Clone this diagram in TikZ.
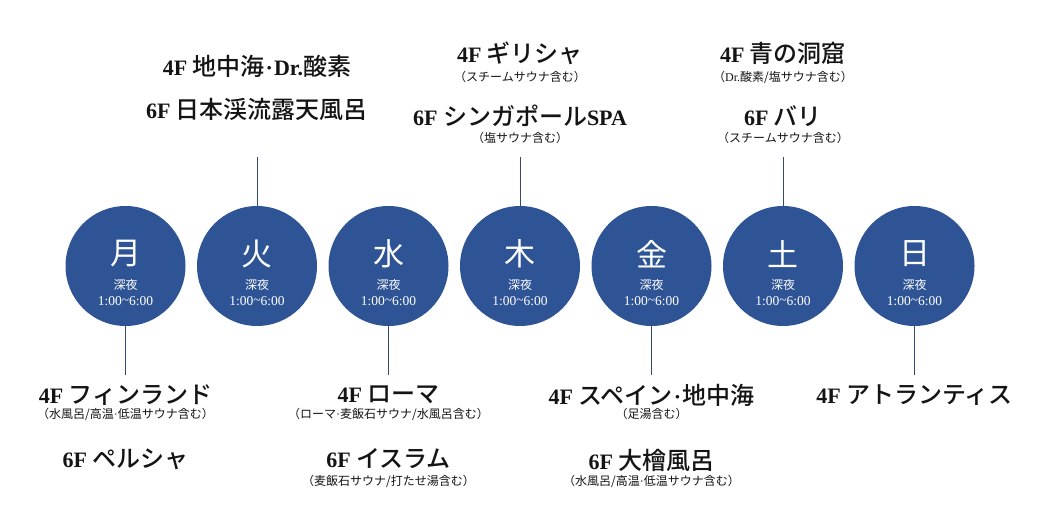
\documentclass[tikz,border=0pt]{standalone}
\usepackage{fontspec}
\setmainfont{Liberation Serif}
\newfontfamily\cjk{Noto Sans CJK JP}
\newfontfamily\cjkm{Noto Sans CJK JP Medium}
\newcommand\JP[1]{{\cjkm\mdseries\fontsize{24}{26}\selectfont #1}}
\newcommand\mdot{\kern1pt{\rmfamily\bfseries\textperiodcentered}\kern1pt}
\definecolor{dayblue}{RGB}{46,84,150}
\definecolor{linecol}{RGB}{52,74,110}
\definecolor{txt}{RGB}{20,20,20}
\tikzset{
  day/.style={circle, fill=dayblue, minimum size=120pt, inner sep=0pt},
  dayname/.style={text=white, font=\cjk\fontsize{31}{34}\selectfont, inner sep=0pt},
  shinya/.style={text=white, font=\cjk\fontsize{12}{14}\selectfont, inner sep=0pt},
  hours/.style={text=white, font=\fontsize{13.5}{15}\selectfont, inner sep=0pt},
  mainlab/.style={text=txt, font=\fontsize{22}{26}\selectfont\bfseries, inner sep=0pt},
  sublab/.style={text=txt, font=\cjk\fontsize{12}{14}\selectfont, inner sep=0pt},
  conn/.style={draw=linecol, line width=0.9pt}
}
\begin{document}
\begin{tikzpicture}[x=1pt,y=-1pt]
\useasboundingbox (0,0) rectangle (1040,529);
% day circles
\foreach \n/\x/\d in {1/125.5/月,2/257/火,3/388.5/水,4/520/木,5/651.5/金,6/783/土,7/914.5/日}{
  \node[day] (c\n) at (\x,266) {};
  \node[dayname] (d\n) at (\x,254) {\d};
  \node[shinya] (s\n) at (\x,285) {深夜};
  \node[hours] (h\n) at (\x,301) {1:00\raisebox{0.5pt}{\textasciitilde}6:00};
}
% connector free ends
\coordinate (t2) at (257,157);
\coordinate (t4) at (520,157);
\coordinate (t6) at (783,157);
\coordinate (b1) at (125.5,375);
\coordinate (b3) at (388.5,375);
\coordinate (b5) at (651.5,375);
\coordinate (b7) at (914.5,375);
\draw[conn] (c2.north) -- (t2);
\draw[conn] (c4.north) -- (t4);
\draw[conn] (c6.north) -- (t6);
\draw[conn] (c1.south) -- (b1);
\draw[conn] (c3.south) -- (b3);
\draw[conn] (c5.south) -- (b5);
\draw[conn] (c7.south) -- (b7);
% Tuesday (top)
\node[mainlab] (l2a) at (257,66) {4F \JP{地中海}\mdot Dr.\JP{酸素}};
\node[mainlab] (l2b) at (257,109) {6F \JP{日本渓流露天風呂}};
% Thursday (top)
\node[mainlab] (l4a) at (520,53) {4F \JP{ギリシャ}};
\node[sublab] (l4b) at (520,77) {（スチームサウナ含む）};
\node[mainlab] (l4c) at (520,116) {6F \JP{シンガポール}SPA};
\node[sublab] (l4d) at (520,138) {（塩サウナ含む）};
% Saturday (top)
\node[mainlab] (l6a) at (783,53) {4F \JP{青の洞窟}};
\node[sublab] (l6b) at (783,77) {（{\rmfamily Dr.}酸素/塩サウナ含む）};
\node[mainlab] (l6c) at (783,116) {6F \JP{バリ}};
\node[sublab] (l6d) at (783,138) {（スチームサウナ含む）};
% Monday (bottom)
\node[mainlab] (l1a) at (125.5,395) {4F \JP{フィンランド}};
\node[sublab] (l1b) at (125.5,414) {（水風呂/高温{\rmfamily\textperiodcentered}低温サウナ含む）};
\node[mainlab] (l1c) at (125.5,459) {6F \JP{ペルシャ}};
% Wednesday (bottom)
\node[mainlab] (l3a) at (388.5,395) {4F \JP{ローマ}};
\node[sublab] (l3b) at (388.5,414) {（ローマ{\rmfamily\textperiodcentered}麦飯石サウナ/水風呂含む）};
\node[mainlab] (l3c) at (388.5,459) {6F \JP{イスラム}};
\node[sublab] (l3d) at (388.5,481) {（麦飯石サウナ/打たせ湯含む）};
% Friday (bottom)
\node[mainlab] (l5a) at (651.5,395) {4F \JP{スペイン}\mdot\JP{地中海}};
\node[sublab] (l5b) at (651.5,414) {（足湯含む）};
\node[mainlab] (l5c) at (651.5,460) {6F \JP{大檜風呂}};
\node[sublab] (l5d) at (651.5,481) {（水風呂/高温{\rmfamily\textperiodcentered}低温サウナ含む）};
% Sunday (bottom)
\node[mainlab] (l7a) at (914.5,395) {4F \JP{アトランティス}};
\end{tikzpicture}
\end{document}
